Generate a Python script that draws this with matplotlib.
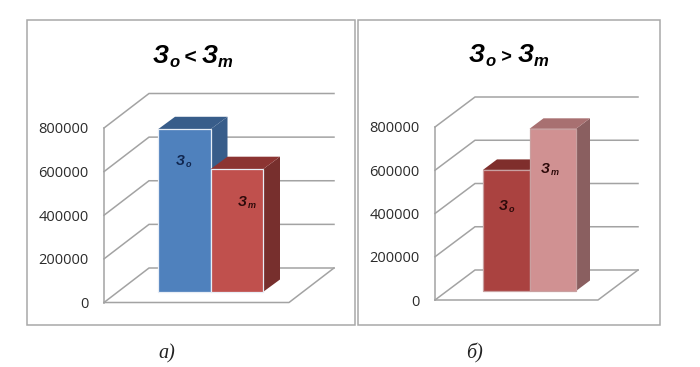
import matplotlib
matplotlib.use("Agg")
import matplotlib.pyplot as plt
from matplotlib.patches import Rectangle

W, H = 700, 367

TICKS = [0, 200000, 400000, 600000, 800000]

VALUES_A = [746000, 563000]
VALUES_B = [560000, 750000]
BAR_NAMES = ["З", "З"]
BAR_SUBS = ["o", "m"]

COLORS_A = [("#4f81bd", "#385d8a", "#385d8a"), ("#c0504d", "#8c3432", "#772f2d")]
COLORS_B = [("#aa4240", "#7f2e2c", "#7f2e2c"), ("#d09192", "#a87071", "#8a5f60")]
EDGES_A = "#e8eef6"
EDGES_B = "#c9a0a0"
GRID = "#a3a3a3"
TEXT = "#2b2b2b"
SERIF = "Liberation Serif"
SANS = "Liberation Sans"


def fx(px):
    return px / W


def fy(py):
    return 1 - py / H


def text_run(fig, x, y, parts, color="black"):
    # parts are (string, size, baseline shift in px), laid out left to right
    renderer = fig.canvas.get_renderer()
    for s, size, dy in parts:
        t = fig.text(fx(x), fy(y + dy), s, fontsize=size, color=color, family=SANS,
                     style="italic", weight="bold", ha="left", va="baseline")
        x = t.get_window_extent(renderer).x1 + 0.5
    return x


def draw_panel(fig, values, colors, edge, geo):
    left, right, y0, y800, top = geo["left"], geo["right"], geo["y0"], geo["y800"], geo["top"]
    px_val = 800000 / (y0 - y800)
    ax = fig.add_axes([fx(left), fy(y0), (right - left) / W, (y0 - top) / H])
    bw = geo["bar_w"]
    to_x = lambda px: (px - geo["bar_x"]) / bw
    ax.set_xlim(to_x(left), to_x(right))
    ax.set_ylim(0, (y0 - top) * px_val)
    ax.patch.set_visible(False)
    for s in ax.spines.values():
        s.set_visible(False)

    wall_dx = geo["wall_dx"] / bw
    wall_dy = geo["wall_dy"] * px_val
    x_front = to_x(left)
    x_back = x_front + wall_dx
    x_end = to_x(right)
    for v in TICKS:
        ax.plot([x_front, x_back, x_end], [v, v + wall_dy, v + wall_dy],
                color=GRID, lw=1.1, solid_joinstyle="miter", clip_on=False)
    ax.plot([x_front, x_front], [0, TICKS[-1]], color=GRID, lw=1.1, clip_on=False)
    ax.plot([x_front, to_x(geo["floor_x"]), x_end], [0, 0, wall_dy], color=GRID, lw=1.1, clip_on=False)

    base = geo["base"] * px_val
    dx = geo["bar_dx"] / bw
    dy = geo["bar_dy"] * px_val
    for i, v in enumerate(values):
        front, roof, side = colors[i]
        ax.fill([i + 1, i + 1 + dx, i + 1 + dx, i + 1],
                [base, base + dy, base + v + dy, base + v], color=side, lw=0, zorder=3 + i)
        ax.fill([i, i + dx, i + 1 + dx, i + 1],
                [base + v, base + v + dy, base + v + dy, base + v], color=roof, lw=0, zorder=3 + i)
        ax.bar(i, v, width=1, bottom=base, align="edge", color=front, edgecolor=edge, lw=0.9, zorder=3 + i)

    ax.set_xticks([])
    ax.set_yticks(TICKS)
    ax.set_yticklabels([str(t) for t in TICKS], fontsize=10.5, color=TEXT, family="Open Sans")
    ax.tick_params(axis="y", length=0, pad=11)
    return ax


GEO_A = dict(left=104, right=334, y0=302.5, y800=128, top=95, bar_x=158, bar_w=52.5, wall_dx=45,
             wall_dy=34.5, floor_x=289, base=10.5, bar_dx=17, bar_dy=12.5)
GEO_B = dict(left=435, right=638, y0=300, y800=127, top=97, bar_x=483, bar_w=46.5, wall_dx=40,
             wall_dy=30, floor_x=598, base=9, bar_dx=14, bar_dy=10.5)

fig = plt.figure(figsize=(W / 100, H / 100), dpi=100, facecolor="white")

for x0, x1 in [(27, 355), (358, 660)]:
    fig.add_artist(Rectangle((fx(x0), fy(325)), (x1 - x0) / W, 305 / H, transform=fig.transFigure,
                             fill=False, edgecolor="#a8a8a8", lw=1.1))

draw_panel(fig, VALUES_A, COLORS_A, EDGES_A, GEO_A)
draw_panel(fig, VALUES_B, COLORS_B, EDGES_B, GEO_B)

text_run(fig, 153, 63, [("З", 18, 0), ("o", 12, 4), ("\u2009<\u2009", 15, 0), ("З", 18, 0), ("m", 12, 4)])
text_run(fig, 469, 62, [("З", 18, 0), ("o", 12, 4), (" > ", 13, 0), ("З", 18, 0), ("m", 12, 4)])

text_run(fig, 176, 165, [(BAR_NAMES[0], 10, 0), (BAR_SUBS[0], 6.5, 2)], color="#10264f")
text_run(fig, 238, 206, [(BAR_NAMES[1], 10, 0), (BAR_SUBS[1], 6.5, 2)], color="#2d0a0a")
text_run(fig, 499, 210, [(BAR_NAMES[0], 10, 0), (BAR_SUBS[0], 6.5, 2)], color="#2d0a0a")
text_run(fig, 541, 173, [(BAR_NAMES[1], 10, 0), (BAR_SUBS[1], 6.5, 2)], color="#2d0a0a")

fig.text(fx(167), fy(358), "а)", fontsize=14.5, style="italic", family=SERIF, ha="center", color="#222222")
fig.text(fx(475), fy(358), "б)", fontsize=14.5, style="italic", family=SERIF, ha="center", color="#222222")

fig.savefig("out.png", dpi=100)
